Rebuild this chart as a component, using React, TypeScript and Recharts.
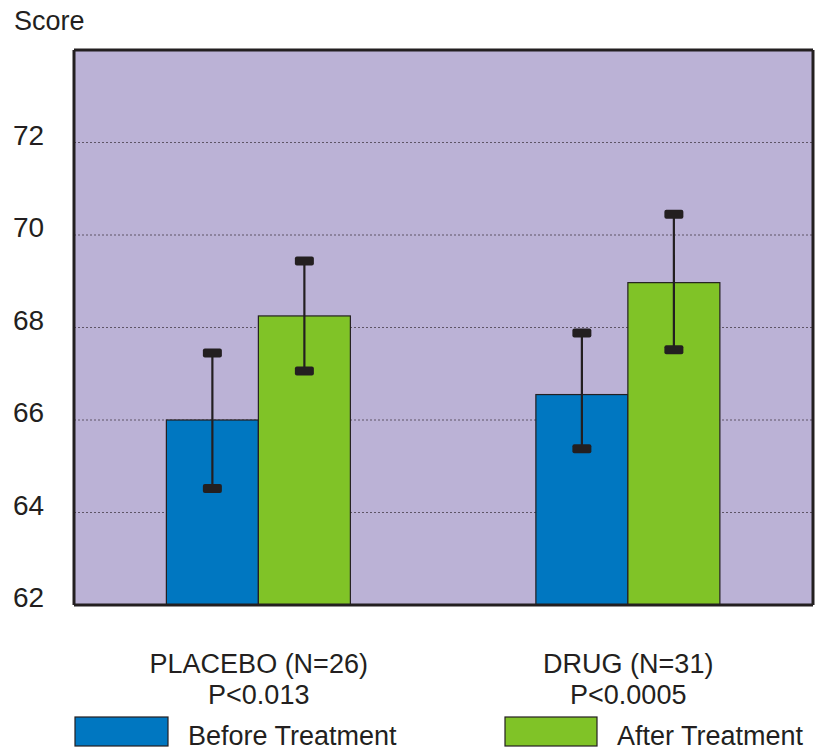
import React from 'react';
import { BarChart, Bar, XAxis, YAxis, CartesianGrid, Legend } from 'recharts';

const categories = ['PLACEBO (N=26)', 'DRUG (N=31)'];
const pValues = ['P<0.013', 'P<0.0005'];
const beforeValues = [66.0, 66.55];
const beforeLow = [64.52, 65.38];
const beforeHigh = [67.45, 67.88];
const afterValues = [68.25, 68.97];
const afterLow = [67.06, 67.52];
const afterHigh = [69.44, 70.45];
const yTicks = [62, 64, 66, 68, 70, 72];
const Y_MIN = 62;
const Y_MAX = 74;

const DARK = '#231F20';
const BLUE = '#0077C1';
const GREEN = '#80C327';
const PURPLE = '#BBB2D6';
const FONT = '"Liberation Sans", Arial, sans-serif';

const data = categories.map((c, i) => ({
  category: c,
  p: pValues[i],
  before: beforeValues[i],
  beforeLow: beforeLow[i],
  beforeHigh: beforeHigh[i],
  after: afterValues[i],
  afterLow: afterLow[i],
  afterHigh: afterHigh[i],
}));

const makeShape = (valueKey: string, lowKey: string, highKey: string, fill: string) => (props: any) => {
  const { x, y, width, height, payload } = props;
  const v = payload[valueKey];
  const bottom = y + height;
  const k = height / (v - Y_MIN);
  const yLow = bottom - (payload[lowKey] - Y_MIN) * k;
  const yHigh = bottom - (payload[highKey] - Y_MIN) * k;
  const cx = x + width / 2;
  const capW = 19;
  const capH = 9;
  return (
    <g>
      <rect x={x} y={y} width={width} height={height} fill={fill} stroke={DARK} strokeWidth={1.2} />
      <line x1={cx} x2={cx} y1={yHigh} y2={yLow} stroke={DARK} strokeWidth={2.2} />
      <rect x={cx - capW / 2} y={yHigh - capH / 2} width={capW} height={capH} rx={2} fill={DARK} />
      <rect x={cx - capW / 2} y={yLow - capH / 2} width={capW} height={capH} rx={2} fill={DARK} />
    </g>
  );
};

const XTick = (props: any) => {
  const { x, y, payload, index } = props;
  return (
    <text x={x} y={y + 68} textAnchor="middle" fontFamily={FONT} fontSize={27} fill={DARK}>
      <tspan x={x}>{payload.value}</tspan>
      <tspan x={x} dy={31}>{pValues[index]}</tspan>
    </text>
  );
};

const YTick = (props: any) => {
  const { y, payload } = props;
  return (
    <text x={13} y={y + 2} textAnchor="start" fontFamily={FONT} fontSize={28} fill={DARK}>
      {payload.value}
    </text>
  );
};

const LegendContent = () => (
  <svg width={815} height={40} style={{ display: 'block' }}>
    <rect x={75} y={5} width={93} height={29} fill={BLUE} stroke={DARK} strokeWidth={1.2} />
    <text x={188} y={33} fontFamily={FONT} fontSize={27} fill={DARK}>Before Treatment</text>
    <rect x={505} y={5} width={92} height={29} fill={GREEN} stroke={DARK} strokeWidth={1.2} />
    <text x={617} y={33} fontFamily={FONT} fontSize={27} fill={DARK}>After Treatment</text>
  </svg>
);

export default function App() {
  return (
    <div style={{ position: 'absolute', left: 0, top: 0, width: 815, height: 751, background: '#fff' }}>
      <BarChart
        width={815}
        height={751}
        data={data}
        margin={{ top: 46, right: 0, bottom: 0, left: 0 }}
        barCategoryGap="25%"
        barGap={0}
      >
        <CartesianGrid vertical={false} fill={PURPLE} stroke="#5E5566" strokeDasharray="2 2" strokeWidth={1} />
        <XAxis
          dataKey="category"
          height={146}
          tick={<XTick />}
          tickLine={false}
          tickSize={0}
          tickMargin={0}
          axisLine={{ stroke: DARK, strokeWidth: 3 }}
          interval={0}
        />
        <XAxis
          xAxisId="top"
          dataKey="category"
          orientation="top"
          height={4}
          tick={false}
          tickLine={false}
          axisLine={{ stroke: DARK, strokeWidth: 3 }}
        />
        <YAxis
          domain={[Y_MIN, Y_MAX]}
          ticks={yTicks}
          width={74}
          tick={<YTick />}
          tickLine={false}
          tickSize={0}
          tickMargin={0}
          axisLine={{ stroke: DARK, strokeWidth: 3 }}
          allowDataOverflow
        />
        <YAxis
          yAxisId="right"
          orientation="right"
          domain={[Y_MIN, Y_MAX]}
          width={2}
          tick={false}
          tickLine={false}
          axisLine={{ stroke: DARK, strokeWidth: 3 }}
        />
        <Legend
          layout="horizontal"
          verticalAlign="middle"
          align="center"
          content={<LegendContent />}
          wrapperStyle={{ position: 'absolute', left: 0, top: 712, width: 815, height: 40 }}
        />
        <Bar dataKey="before" name="Before Treatment" fill={BLUE} isAnimationActive={false}
          shape={makeShape('before', 'beforeLow', 'beforeHigh', BLUE)} />
        <Bar dataKey="after" name="After Treatment" fill={GREEN} isAnimationActive={false}
          shape={makeShape('after', 'afterLow', 'afterHigh', GREEN)} />
        <text x={14} y={30} fontFamily={FONT} fontSize={27} fill={DARK}>Score</text>
      </BarChart>
    </div>
  );
}
